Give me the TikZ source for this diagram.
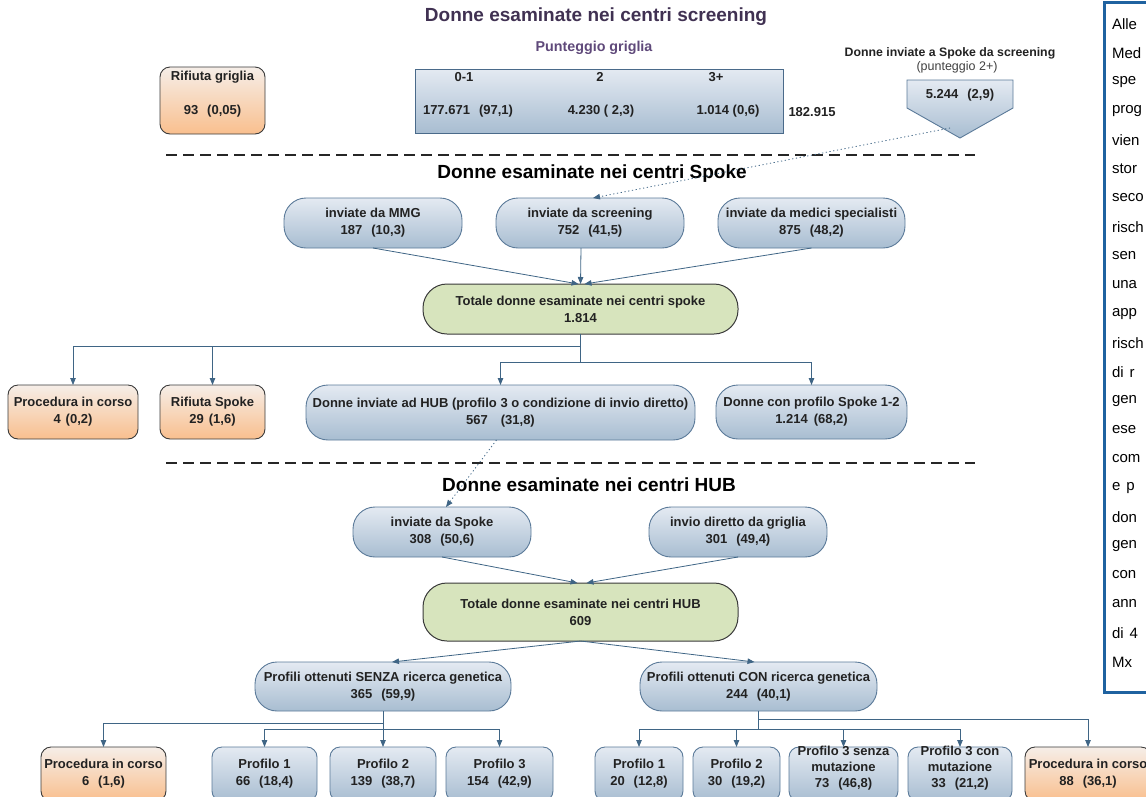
\documentclass[tikz,border=0pt]{standalone}
\usepackage{fontspec}
\setmainfont{Liberation Sans}
\usetikzlibrary{arrows.meta,calc}
\definecolor{bluetop}{HTML}{E4EAF2}
\definecolor{bluebot}{HTML}{A8BDD1}
\definecolor{blueedge}{HTML}{5B7A99}
\definecolor{gridedge}{HTML}{4A6A8A}
\definecolor{greenfill}{HTML}{D7E4BD}
\definecolor{orangetop}{HTML}{F6EEE8}
\definecolor{orangebot}{HTML}{F9BF8E}
\definecolor{darkedge}{HTML}{3A3A3A}
\definecolor{arrowcol}{HTML}{3F6585}
\definecolor{purpledark}{HTML}{403152}
\definecolor{purplemid}{HTML}{5F497A}
\definecolor{panelblue}{HTML}{1F62A0}
\definecolor{txt}{HTML}{222222}
\newcommand\nf{\fontsize{13}{17}\selectfont\bfseries}
\newcommand\gp{\hspace{9pt}}
\begin{document}
\begin{tikzpicture}[x=1pt,y=-1pt,
  every node/.style={inner sep=0pt, outer sep=0pt, text=txt},
  bluepill/.style={draw=blueedge, line width=0.9pt, top color=bluetop, bottom color=bluebot, rounded corners=22pt, align=center, font=\nf},
  bluebox/.style={draw=blueedge, line width=0.9pt, top color=bluetop, bottom color=bluebot, rounded corners=10pt, align=center, font=\nf},
  orangebox/.style={draw=darkedge, line width=0.9pt, top color=orangetop, bottom color=orangebot, rounded corners=10pt, align=center, font=\nf},
  greenpill/.style={draw=darkedge, line width=1pt, fill=greenfill, rounded corners=24pt, align=center, font=\nf},
  lbl/.style={font=\nf, align=center},
  arr/.style={draw=arrowcol, line width=0.8pt, -{Triangle[length=7pt,width=5.5pt]}},
  conn/.style={draw=arrowcol, line width=0.8pt},
  dotarr/.style={arr, dash pattern=on 1.2pt off 2.6pt},
  sep/.style={draw=black!85, line width=1.2pt, dash pattern=on 11pt off 6pt},
  paneltext/.style={anchor=west, font=\fontsize{15}{15}\selectfont, text=black}
]
\useasboundingbox (0,0) rectangle (1146,796);

% ---------- screening section ----------
\node[font=\fontsize{19}{21}\selectfont\bfseries, text=purpledark] (t1) at (596,17) {Donne esaminate nei centri screening};
\node[font=\fontsize{14.3}{16}\selectfont\bfseries, text=purplemid] (pg) at (594,48) {Punteggio griglia};

\node[orangebox, minimum width=105pt, minimum height=67pt] (rifg) at (212.5,100.5) {};
\node[lbl] (rifgA) at (212.5,77) {Rifiuta griglia};
\node[lbl] (rifgB) at (212.5,111) {93\gp(0,05)};

\node[draw=gridedge, line width=1pt, top color=bluetop, bottom color=bluebot, minimum width=368pt, minimum height=64pt] (grid) at (599,101) {};
\node[lbl] (g01) at (464,77) {0-1};
\node[lbl] (g2) at (600,77) {2};
\node[lbl] (g3) at (716,77) {3+};
\node[lbl] (v1) at (468,111) {177.671\gp(97,1)};
\node[lbl] (v2) at (601,111) {4.230 ( 2,3)};
\node[lbl] (v3) at (728,111) {1.014 (0,6)};
\node[lbl] (gtot) at (812,112) {182.915};

\node[font=\fontsize{12.3}{14}\selectfont\bfseries] (dis) at (950,53) {Donne inviate a Spoke da screening};
\node[font=\fontsize{12.5}{14}\selectfont, text=black!75] (pun) at (957,67) {(punteggio 2+)};
\path[draw=blueedge, line width=0.9pt, top color=bluetop, bottom color=bluebot]
  (907,80) -- (1013,80) -- (1013,108) -- (960,138) -- (907,108) -- cycle;
\node[lbl] (pent) at (960,95) {5.244\gp(2,9)};
\coordinate (pentsrc) at (950,128);

\draw[sep] (166,155) -- (975,155);

% ---------- Spoke section ----------
\node[font=\fontsize{19}{21}\selectfont\bfseries, text=black] (t2) at (592,174) {Donne esaminate nei centri Spoke};
\node[bluepill, minimum width=178pt, minimum height=50pt] (mmg) at (373,223) {inviate da MMG\\187\gp(10,3)};
\node[bluepill, minimum width=188pt, minimum height=50pt] (scr) at (590,223) {inviate da screening\\752\gp(41,5)};
\node[bluepill, minimum width=187pt, minimum height=50pt] (med) at (811.5,223) {inviate da medici specialisti\\875\gp(48,2)};
\node[greenpill, minimum width=315pt, minimum height=50pt] (tots) at (580.5,309) {Totale donne esaminate nei centri spoke\\1.814};

\draw[dotarr] (pentsrc) -- ([xshift=3pt]scr.north);
\draw[arr] (mmg.south) -- ([xshift=-2pt]tots.north);
\draw[arr] ([xshift=-9pt]scr.south) -- (tots.north);
\draw[arr] (med.south) -- ([xshift=4pt]tots.north);

\node[orangebox, minimum width=130pt, minimum height=54pt] (proc4) at (73,412) {Procedura in corso\\4\hspace{5pt}(0,2)};
\node[orangebox, minimum width=105pt, minimum height=54pt] (rifs) at (212.5,412) {Rifiuta Spoke\\29\hspace{5pt}(1,6)};
\node[bluepill, minimum width=389pt, minimum height=55pt] (hub) at (500.5,412.5) {Donne inviate ad HUB (profilo 3 o condizione di invio diretto)\\567\hspace{13pt}(31,8)};
\node[bluepill, minimum width=191pt, minimum height=54pt] (p12) at (811.5,412) {Donne con profilo Spoke 1-2\\1.214\hspace{6pt}(68,2)};

\coordinate (ja) at (580.5,346);
\coordinate (jb) at (580.5,362);
\draw[conn] (tots.south) -- (jb);
\draw[arr] (ja) -| (proc4.north);
\draw[arr] (ja -| rifs.north) -- (rifs.north);
\draw[arr] (jb) -| (hub.north);
\draw[arr] (jb) -| (p12.north);

\draw[sep] (166,463) -- (975,463);

% ---------- HUB section ----------
\node[font=\fontsize{19}{21}\selectfont\bfseries, text=black] (t3) at (589,485) {Donne esaminate nei centri HUB};
\node[bluepill, minimum width=178pt, minimum height=50pt] (isp) at (442,532) {inviate da Spoke\\308\gp(50,6)};
\node[bluepill, minimum width=178pt, minimum height=50pt] (idg) at (738,532) {invio diretto da griglia\\301\gp(49,4)};
\node[greenpill, minimum width=315pt, minimum height=58pt] (toth) at (580.5,612) {Totale donne esaminate nei centri HUB\\609};

\draw[dotarr] ([xshift=-4pt]hub.south) -- ([xshift=4pt]isp.north);
\draw[arr] (isp.south) -- ([xshift=-3pt]toth.north);
\draw[arr] (idg.south) -- ([xshift=6pt]toth.north);

\node[bluepill, minimum width=256pt, minimum height=49pt] (senza) at (383,686.5) {Profili ottenuti SENZA ricerca genetica\\365\gp(59,9)};
\node[bluepill, minimum width=237pt, minimum height=49pt] (con) at (758.5,686.5) {Profili ottenuti CON ricerca genetica\\244\gp(40,1)};
\draw[arr] (toth.south) -- ([xshift=9pt]senza.north);
\draw[arr] (toth.south) -- ([xshift=-4pt]con.north);

% bottom row
\node[orangebox, minimum width=125pt, minimum height=54pt] (pr6) at (103.5,774) {Procedura in corso\\6\gp(1,6)};
\node[bluebox, minimum width=105pt, minimum height=54pt] (sp1) at (264.5,774) {Profilo 1\\66\gp(18,4)};
\node[bluebox, minimum width=106pt, minimum height=54pt] (sp2) at (383,774) {Profilo 2\\139\gp(38,7)};
\node[bluebox, minimum width=107pt, minimum height=54pt] (sp3) at (499.5,774) {Profilo 3\\154\gp(42,9)};
\node[bluebox, minimum width=88pt, minimum height=54pt] (cp1) at (639,774) {Profilo 1\\20\gp(12,8)};
\node[bluebox, minimum width=87pt, minimum height=54pt] (cp2) at (736.5,774) {Profilo 2\\30\gp(19,2)};
\node[bluebox, minimum width=109pt, minimum height=54pt] (cp3s) at (843.5,774) {};
\node[font=\fontsize{13}{16}\selectfont\bfseries, align=center] (cp3sT) at (843.5,768) {Profilo 3 senza\\mutazione\\73\gp(46,8)};
\node[bluebox, minimum width=104pt, minimum height=54pt] (cp3c) at (960,774) {};
\node[font=\fontsize{13}{16}\selectfont\bfseries, align=center] (cp3cT) at (960,768) {Profilo 3 con\\mutazione\\33\gp(21,2)};
\node[orangebox, minimum width=126pt, minimum height=54pt] (pr88) at (1088,774) {Procedura in corso\\88\gp(36,1)};

\coordinate (sa) at (383,723);
\coordinate (sb) at (383,729);
\draw[arr] (senza.south) -- (sp2.north);
\draw[arr] (sa) -| (pr6.north);
\draw[arr] (sb) -| (sp1.north);
\draw[arr] (sb) -| (sp3.north);

\coordinate (ca) at (758.5,719);
\coordinate (cb) at (758.5,729);
\draw[conn] (con.south) -- (cb);
\draw[arr] (ca) -| (pr88.north);
\draw[arr] (cb) -| (cp1.north);
\draw[arr] (cb) -| (cp2.north);
\draw[arr] (cb) -| (cp3s.north);
\draw[arr] (cb) -| (cp3c.north);

% ---------- side panel (cut at right edge) ----------
\draw[draw=panelblue, line width=3pt] (1104,2) rectangle (1170,692);
\foreach \t [count=\i] in {Alle,Med,spe,prog,vien,stor,seco,risch,sen,una,app,risch,di\hspace{6pt}r,gen,ese,com,e\hspace{6pt}p,don,gen,con,ann,di\hspace{6pt}4,Mx}{
  \node[paneltext] (pl\i) at (1112,{24+29*(\i-1)}) {\t};
}
\end{tikzpicture}
\end{document}
